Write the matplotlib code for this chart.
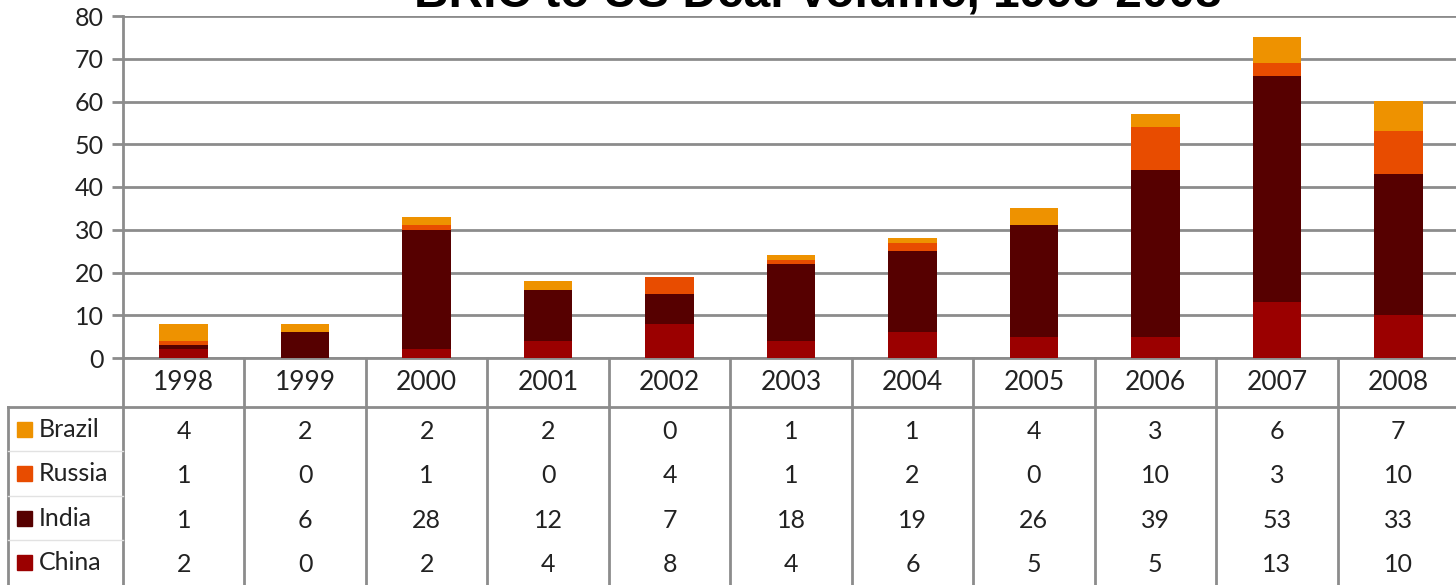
import numpy as np
import matplotlib.pyplot as plt
from matplotlib.patches import Rectangle

# dados
anos = ['1998', '1999', '2000', '2001', '2002', '2003', '2004', '2005', '2006', '2007', '2008']
brazil = [4, 2, 2, 2, 0, 1, 1, 4, 3, 6, 7]
russia = [1, 0, 1, 0, 4, 1, 2, 0, 10, 3, 10]
india = [1, 6, 28, 12, 7, 18, 19, 26, 39, 53, 33]
china = [2, 0, 2, 4, 8, 4, 6, 5, 5, 13, 10]

paises = ['China', 'India', 'Russia', 'Brazil']
series = [china, india, russia, brazil]
cores = ['#9B0000', '#560000', '#E84C00', '#EE9200']

plt.rcParams['font.family'] = ['Lato', 'DejaVu Sans']

W, H = 1456, 585
fig = plt.figure(figsize=(W / 100, H / 100), dpi=100)

x0, x1 = 123, 1459   # limites horizontais da area do grafico (px)
y_top, y_zero, y_bot = 16, 358, 585
cinza = '#8C8C8C'

# grafico de barras empilhadas
ax = fig.add_axes([x0 / W, (H - y_zero) / H, (x1 - x0) / W, (y_zero - y_top) / H])
x = np.arange(len(anos))
base = np.zeros(len(anos))
for vals, cor in zip(series, cores):
    ax.bar(x, vals, bottom=base, width=0.4, color=cor, zorder=3)
    base += np.array(vals)

ax.set_xlim(-0.5, len(anos) - 0.5)
ax.set_ylim(0, 80)
ax.set_yticks(range(0, 81, 10))
ax.yaxis.grid(True, color=cinza, linewidth=2, zorder=0)
ax.set_xticks([])
for lado in ['top', 'right']:
    ax.spines[lado].set_visible(False)
ax.spines['left'].set_color(cinza)
ax.spines['left'].set_linewidth(2)
ax.spines['bottom'].set_color(cinza)
ax.spines['bottom'].set_linewidth(2)
ax.tick_params(axis='y', length=8, width=2, color=cinza, labelsize=18, pad=6, labelcolor='#222222')

# tabela de dados abaixo do grafico
tab = fig.add_axes([x0 / W, 0, (x1 - x0) / W, (y_bot - y_zero) / H])
tab.set_xlim(-0.5, len(anos) - 0.5)
tab.set_ylim(0, 5.1)
tab.axis('off')

passo = (x1 - x0) / len(anos)        # px por categoria
xl = -0.5 - (x0 - 8) / passo           # borda esquerda da coluna de legenda

# linhas verticais
for i in range(len(anos) + 1):
    tab.plot([i - 0.5, i - 0.5], [0, 5.1], color=cinza, lw=2, clip_on=False)
tab.plot([xl, xl], [0, 4], color=cinza, lw=2, clip_on=False)
tab.plot([xl, len(anos) - 0.5], [4, 4], color=cinza, lw=2, clip_on=False)
for r in range(1, 4):
    tab.plot([xl, -0.5], [r, r], color='#E2E2E2', lw=1, clip_on=False)

# cabecalho com os anos
for i, ano in enumerate(anos):
    tab.text(i, 4.55, ano, ha='center', va='center', fontsize=19, color='#222222')

# linhas da tabela (Brazil no topo)
sq_w = 15 / passo
for r, (nome, vals, cor) in enumerate(zip(paises, series, cores)):
    yc = r + 0.5
    tab.add_patch(Rectangle((xl + 9 / passo, yc - 0.17), sq_w, 0.34,
                            color=cor, clip_on=False))
    tab.text(xl + 31 / passo, yc, nome, ha='left', va='center', fontsize=18, color='#222222')
    for i, v in enumerate(vals):
        tab.text(i, yc - 0.05, str(v), ha='center', va='center', fontsize=18, color='#222222')

# titulo (cortado no topo como no original)
fig.text(818 / W, 1 - 7 / H, 'BRIC to US Deal Volume, 1998-2008', ha='center',
         va='baseline', fontsize=34.5, fontweight='bold', family=['Liberation Sans', 'DejaVu Sans'])

plt.savefig('out.png', dpi=100)
plt.close()
